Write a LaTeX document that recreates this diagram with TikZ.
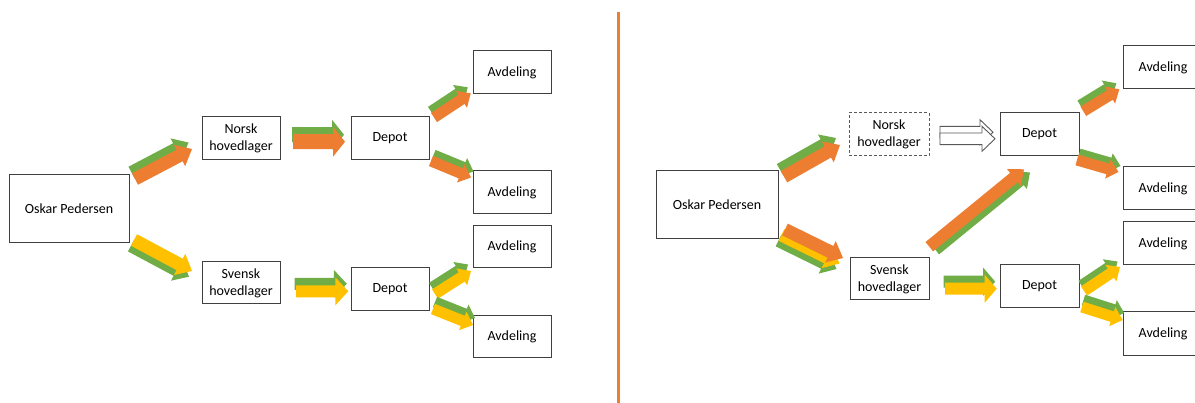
\documentclass[tikz,border=0pt]{standalone}
\usepackage{fontspec}
\setmainfont{Carlito}
\usetikzlibrary{calc}
\definecolor{ogreen}{HTML}{70AD47}
\definecolor{oorange}{HTML}{ED7D31}
\definecolor{oyellow}{HTML}{FFC000}
\definecolor{boxline}{HTML}{404040}
\definecolor{hollowline}{HTML}{595959}
\newcommand{\arrowshape}[6]{%
  \coordinate (arS) at (#2);
  \coordinate (arT) at (#3);
  \coordinate (arB) at ($(arT)!#6!(arS)$);
  \path[#1] ($(arS)!#4!90:(arT)$) -- ($(arB)!#4!-90:(arS)$) -- ($(arB)!#5!-90:(arS)$)
    -- (arT) -- ($(arB)!#5!90:(arS)$) -- ($(arB)!#4!90:(arS)$) -- ($(arS)!#4!-90:(arT)$) -- cycle;}
\newcommand{\pairarr}[8]{%
  \arrowshape{fill=#1}{$(#3)+(#5)$}{$(#4)+(#5)$}{#6}{#7}{#8}
  \arrowshape{fill=#2}{#3}{#4}{#6}{#7}{#8}}
\tikzset{
  box/.style={draw=boxline, line width=1pt, fill=white, inner sep=0pt, align=center,
    font=\fontsize{14}{17}\selectfont, minimum width=78pt, minimum height=43pt},
  bigbox/.style={box, minimum width=120pt, minimum height=68pt},
  dashbox/.style={box, draw=hollowline, dash pattern=on 3pt off 2pt},
  hollow/.style={fill=white, draw=hollowline, line width=0.9pt},
}
\begin{document}
\begin{tikzpicture}[x=1pt,y=-1pt]
\useasboundingbox (0,0) rectangle (1195,403);
\clip (0,0) rectangle (1195,403);
% ---------- left panel ----------
\node[bigbox] (oskL) at (69,209) {Oskar Pedersen};
\node[box] (norL) at (241,138.5) {Norsk\\hovedlager};
\node[box, minimum height=42pt] (sveL) at (241,283) {Svensk\\hovedlager};
\node[box] (depL1) at (390,138.5) {Depot};
\node[box] (depL2) at (390,289.5) {Depot};
\node[box] (avL1) at (512,72.5) {Avdeling};
\node[box] (avL2) at (512,192.5) {Avdeling};
\node[box, minimum height=42pt] (avL3) at (512,247) {Avdeling};
\node[box, minimum height=42pt] (avL4) at (512,337) {Avdeling};
\pairarr{ogreen}{oorange}{135,179}{192,149}{-3.5,-6.5}{6.5pt}{12pt}{14pt}
\pairarr{ogreen}{oyellow}{134,240}{192,271}{-3,5.7}{6.5pt}{12pt}{14pt}
\pairarr{ogreen}{oorange}{293,141.7}{345,141.7}{-1,-7}{7.5pt}{15pt}{12pt}
\pairarr{ogreen}{oorange}{434,117.5}{470.7,93.3}{-3,-6}{5.5pt}{10pt}{11pt}
\pairarr{ogreen}{oorange}{431,161}{471,177.5}{2.5,-6}{5.5pt}{10pt}{11pt}
\pairarr{ogreen}{oyellow}{296,291.3}{348.3,291.3}{-1.5,-7.5}{6pt}{14pt}{13pt}
\pairarr{ogreen}{oyellow}{435,294}{471,271}{-3,-6.5}{5.5pt}{10pt}{11pt}
\pairarr{ogreen}{oyellow}{433,309}{473,325}{2,-7}{5.5pt}{10pt}{11pt}
% ---------- divider ----------
\draw[oorange, line width=3pt] (618,12) -- (618,403);
% ---------- right panel ----------
\node[bigbox, minimum width=122pt] (oskR) at (717,205) {Oskar Pedersen};
\node[dashbox, minimum width=80pt] (norR) at (889,134.5) {Norsk\\hovedlager};
\node[box, minimum width=79pt, minimum height=42pt] (sveR) at (889.5,279) {Svensk\\hovedlager};
\node[box, minimum width=79pt] (depR1) at (1039.5,134.5) {Depot};
\node[box, minimum width=79pt] (depR2) at (1039.5,286.5) {Depot};
\node[box, minimum width=80pt] (avR1) at (1163,67.5) {Avdeling};
\node[box, minimum width=80pt] (avR2) at (1163,188.5) {Avdeling};
\node[box, minimum width=80pt] (avR3) at (1163,243.5) {Avdeling};
\node[box, minimum width=80pt, minimum height=44pt] (avR4) at (1163,334) {Avdeling};
\pairarr{ogreen}{oorange}{784,176.7}{840,145}{-4,-7}{6.5pt}{12pt}{14pt}
\arrowshape{fill=ogreen}{$(785,229.5)+(-6.5,11)$}{$(843,258)+(-6.5,11)$}{6.5pt}{12pt}{14pt}
\arrowshape{fill=oyellow}{$(785,229.5)+(-3.5,5.5)$}{$(843,258)+(-3.5,5.5)$}{6.5pt}{12pt}{14pt}
\arrowshape{fill=oorange}{785,229.5}{843,258}{6.5pt}{12pt}{14pt}
\pairarr{ogreen}{oorange}{929.3,246.7}{1024,169.3}{6,3}{6pt}{11pt}{13pt}
\arrowshape{hollow}{940,132.2}{993,132.2}{5.8pt}{12.5pt}{13pt}
\arrowshape{hollow}{940,138.8}{995,138.8}{5.8pt}{12.5pt}{13pt}
\pairarr{ogreen}{oyellow}{945,288.7}{996.7,288.7}{-1.5,-7}{6pt}{14pt}{12pt}
\pairarr{ogreen}{oorange}{1083.3,111.3}{1119.3,89.3}{-3,-6}{5.5pt}{10pt}{11pt}
\pairarr{ogreen}{oorange}{1077,160}{1118.5,172}{2,-6}{5.5pt}{10pt}{11pt}
\pairarr{ogreen}{oyellow}{1084,291}{1120,267}{-2.5,-5.5}{5.5pt}{10pt}{11pt}
\pairarr{ogreen}{oyellow}{1082,307}{1122.7,320}{1.5,-7}{5.5pt}{10pt}{11pt}
\end{tikzpicture}
\end{document}
